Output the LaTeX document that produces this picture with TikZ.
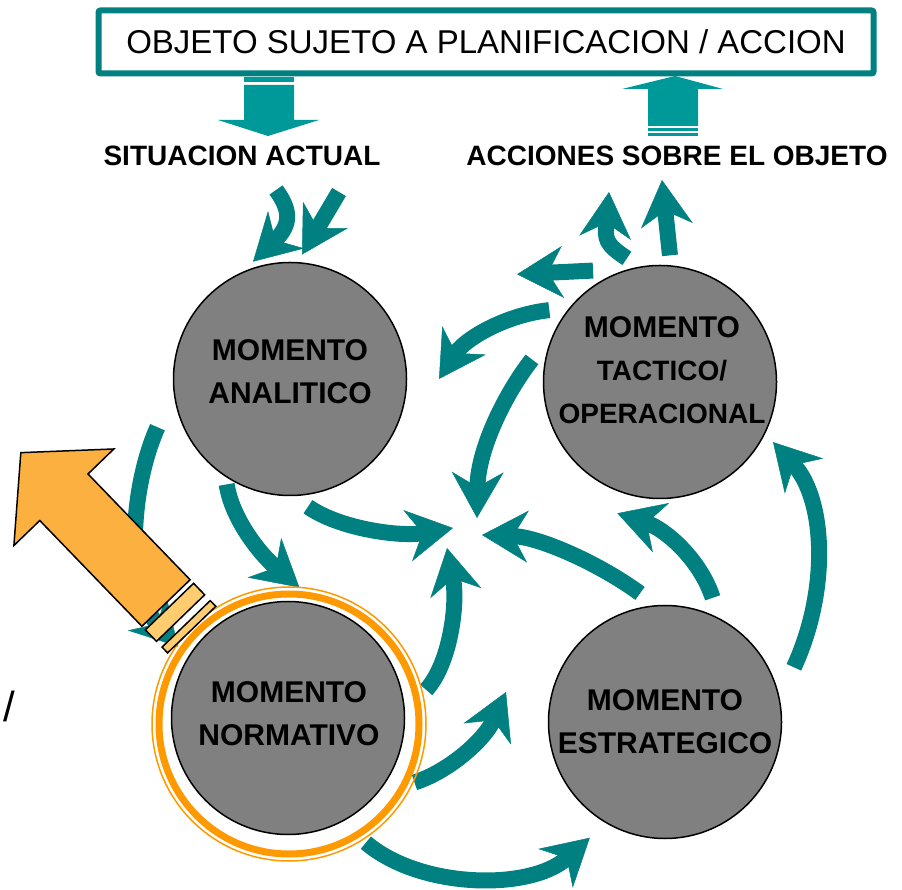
\documentclass[tikz,border=0pt]{standalone}
\usepackage{fontspec}
\setmainfont{Liberation Sans}
\usepackage{tikz}
\usetikzlibrary{positioning, arrows.meta, calc}

\definecolor{flowteal}{HTML}{008080}
\definecolor{blockteal}{HTML}{009999}
\definecolor{momgray}{HTML}{808080}
\definecolor{ringorange}{HTML}{FF9900}
\definecolor{outorange}{HTML}{FBB040}
\definecolor{bandorange}{HTML}{FFCC70}

\tikzset{
  momento/.style={circle, draw=black, line width=1.5pt, fill=momgray,
    minimum size=233pt, inner sep=0pt, outer sep=0pt},
  momtext/.style={align=center, font=\fontsize{30}{43}\selectfont\bfseries},
  headline/.style={font=\fontsize{28}{32}\selectfont\bfseries},
  flow/.style={draw=flowteal, line width=16pt,
    -{Stealth[length=46pt, width=52pt, inset=15pt, line width=0.5pt]}},
  orangepart/.style={draw=black, line width=1.5pt, line join=miter}
}

\begin{document}
\begin{tikzpicture}[x=1pt, y=1pt]
	\useasboundingbox (0,0) rectangle (902,889);
	
	% object box and the two labels under it
	\node (obj) [draw=flowteal, line width=6pt, rounded corners=2pt,
		minimum width=775pt, minimum height=63pt,
		font=\fontsize{33}{36}\selectfont] at (486,847) {OBJETO SUJETO A PLANIFICACION / ACCION};
	\node (sit) [headline] at (242,733) {SITUACION ACTUAL};
	\node (acc) [headline] at (677,733) {ACCIONES SOBRE EL OBJETO};
	
	% block arrows at the box
	\fill[blockteal] (244,807) rectangle (294,812);
	\fill[blockteal] (244,804) -- (244,769) -- (218,769) -- (268,753) -- (319,769) -- (294,769) -- (294,804) -- cycle;
	\fill[blockteal] (675,813) -- (723,800) -- (698,800) -- (698,763) -- (648,763) -- (648,800) -- (622,800) -- cycle;
	\fill[blockteal] (648,758) rectangle (698,761);
	\fill[blockteal] (648,753) rectangle (698,756);
	
	% the four moments
	\node (ana) [momento] at (290,510) {};
	\node (tac) [momento] at (660,507) {};
	\node (nor) [momento] at (288,171) {};
	\node (est) [momento] at (665,167) {};
	\node (anatext) [momtext] at (290,517) {MOMENTO\\ANALITICO};
	\node (tactext) [momtext] at (662,519) {MOMENTO\\{\fontsize{28}{42}\selectfont TACTICO/}\\{\fontsize{28}{42}\selectfont OPERACIONAL}};
	\node (nortext) [momtext] at (289,175) {MOMENTO\\NORMATIVO};
	\node (esttext) [momtext] at (665,167) {MOMENTO\\ESTRATEGICO};
	
	\coordinate (hub) at (465,357);
	\coordinate (sitL) at (276,699);
	\coordinate (sitR) at (339,697);
	\coordinate (accL) at (609,697);
	\coordinate (accR) at (662,709);
	\coordinate (midgap) at (506,197);
	
	% situacion -> analitico
	\draw[flow] (sitL) .. controls (290,680) and (292,665) .. ($(ana)+(107.5:123)$);
	\draw[flow] (sitR) -- ($(ana)+(84.5:125)$);
	% tactico -> acciones
	\draw[flow] ($(tac)+(105:128)$) .. controls (605,645) and (605,650) .. (accL);
	\draw[flow] ($(tac)+(85.5:127)$) -- (accR);
	% tactico
	\draw[flow] ($(tac)+(121:130)$) -- ($(tac)+(143:179)$);
	\draw[flow] ($(tac)+(147:132)$) .. controls (505,574) and (465,550) .. ($(ana)+(0:149)$);
	\draw[flow] ($(tac)+(170:130)$) .. controls (505,495) and (478,440) .. ($(hub)+(12,14)$);
	% estrategico
	\draw[flow] ($(est)+(101:131)$) .. controls (600,325) and (540,352) .. ($(hub)+(17,-3)$);
	\draw[flow] ($(est)+(69:133)$) .. controls (700,330) and (665,360) .. ($(tac)+(-108:138)$);
	\draw[flow] ($(est)+(23:140)$) .. controls (830,300) and (825,390) .. ($(tac)+(-28:128)$);
	% analitico
	\draw[flow] ($(ana)+(-82:129)$) .. controls (340,360) and (400,352) .. ($(hub)+(-12,4)$);
	\draw[flow] ($(ana)+(-121:123)$) .. controls (232,370) and (260,335) .. ($(nor)+(85:131)$);
	\draw[flow] ($(ana)+(-160:141)$) .. controls (130,400) and (125,300) .. ($(nor)+(147:131)$);
	% normativo
	\draw[flow] ($(nor)+(11.5:141)$) .. controls (450,225) and (458,285) .. ($(hub)+(-18,-16)$);
	\draw[flow] ($(nor)+(-27:142)$) .. controls (450,118) and (485,150) .. (midgap);
	\draw[flow] ($(nor)+(-58:147)$) .. controls (420,0) and (530,-2) .. ($(est)+(-123:138)$);
	
	% ring round normativo
	\draw[ringorange, line width=7pt] (289,165) circle (130);
	\draw[ringorange, line width=1.5pt] (289,165) circle (137);
	
	% orange arrow
	\begin{scope}[shift={(166,286)}, rotate=134]
		\filldraw[orangepart, fill=outorange] (0,-33.5) -- (147,-33.5) -- (147,-69.5) -- (209,0) -- (147,69.5) -- (147,33.5) -- (0,33.5) -- cycle;
		\filldraw[orangepart, fill=bandorange] (-5,-33.5) rectangle (-21,33.5);
		\filldraw[orangepart, fill=bandorange] (-29,-33.5) rectangle (-37,33.5);
	\end{scope}
	
	\node (slash) [font=\fontsize{42}{44}\selectfont] at (9,183) {/};
\end{tikzpicture}
\end{document}
